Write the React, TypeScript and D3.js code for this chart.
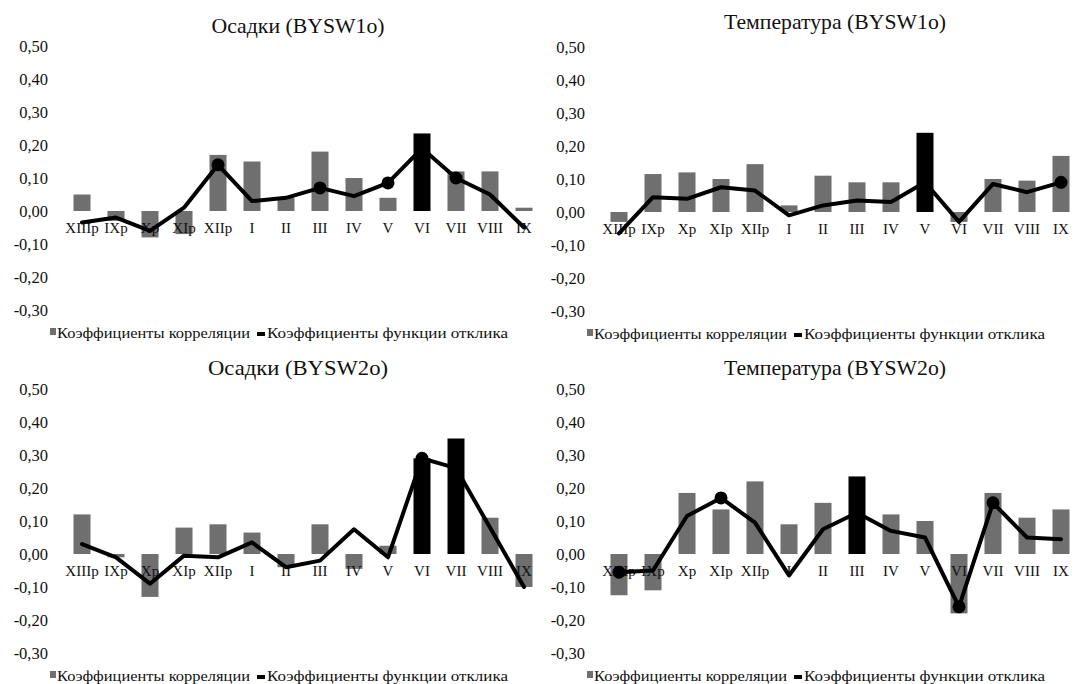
import React from "react";
import * as d3 from "d3";

const W = 1075;
const H = 684;

// Months of the previous (p) and current growth year
const months = ["XIIIp", "IXp", "Xp", "XIp", "XIIp", "I", "II", "III", "IV", "V", "VI", "VII", "VIII", "IX"];
const yTicks = [0.5, 0.4, 0.3, 0.2, 0.1, 0, -0.1, -0.2, -0.3];
const legendCorr = "Коэффициенты корреляции";
const legendResp = "Коэффициенты функции отклика";

// Осадки (BYSW1o)
const precip1Corr = [0.05, -0.03, -0.08, -0.07, 0.17, 0.15, 0.04, 0.18, 0.1, 0.04, 0.235, 0.12, 0.12, 0.01];
const precip1Resp = [-0.035, -0.02, -0.06, 0.01, 0.14, 0.03, 0.04, 0.07, 0.045, 0.085, 0.19, 0.1, 0.05, -0.05];
const precip1CorrSig = ["VI"];
const precip1RespSig = ["XIIp", "III", "V", "VII"];

// Температура (BYSW1o)
const temp1Corr = [-0.03, 0.115, 0.12, 0.1, 0.145, 0.02, 0.11, 0.09, 0.09, 0.24, -0.03, 0.1, 0.095, 0.17];
const temp1Resp = [-0.065, 0.045, 0.04, 0.075, 0.065, -0.01, 0.02, 0.035, 0.03, 0.09, -0.03, 0.085, 0.06, 0.09];
const temp1CorrSig = ["V"];
const temp1RespSig = ["V", "IX"];

// Осадки (BYSW2o)
const precip2Corr = [0.12, -0.01, -0.13, 0.08, 0.09, 0.065, -0.04, 0.09, -0.045, 0.025, 0.29, 0.35, 0.11, -0.1];
const precip2Resp = [0.03, -0.01, -0.09, -0.005, -0.01, 0.035, -0.04, -0.02, 0.075, -0.01, 0.29, 0.26, 0.08, -0.1];
const precip2CorrSig = ["VI", "VII"];
const precip2RespSig = ["VI"];

// Температура (BYSW2o)
const temp2Corr = [-0.125, -0.11, 0.185, 0.135, 0.22, 0.09, 0.155, 0.235, 0.12, 0.1, -0.18, 0.185, 0.11, 0.135];
const temp2Resp = [-0.055, -0.05, 0.115, 0.17, 0.095, -0.065, 0.075, 0.125, 0.07, 0.05, -0.16, 0.155, 0.05, 0.045];
const temp2CorrSig = ["III"];
const temp2RespSig = ["XIIIp", "XIp", "VI", "VII"];

const panels = [
  { title: "Осадки (BYSW1o)", corr: precip1Corr, resp: precip1Resp, corrSig: precip1CorrSig, respSig: precip1RespSig, dx: 0, dy: 0, titleY: 33, titleLen: 173 },
  { title: "Температура (BYSW1o)", corr: temp1Corr, resp: temp1Resp, corrSig: temp1CorrSig, respSig: temp1RespSig, dx: 537, dy: 1, titleY: 28, titleLen: 222 },
  { title: "Осадки (BYSW2o)", corr: precip2Corr, resp: precip2Resp, corrSig: precip2CorrSig, respSig: precip2RespSig, dx: 0, dy: 343, titleY: 32, titleLen: 180 },
  { title: "Температура (BYSW2o)", corr: temp2Corr, resp: temp2Resp, corrSig: temp2CorrSig, respSig: temp2RespSig, dx: 537, dy: 343, titleY: 32, titleLen: 222 },
];

const serif: React.CSSProperties = { fontFamily: "Liberation Serif, Times New Roman, DejaVu Serif, serif" };
const GRAY = "#6f6f6f";
const BLACK = "#000000";
const INK = "#111111";

const ruLocale = d3.formatLocale({ decimal: ",", thousands: " ", grouping: [3], currency: ["", ""], minus: "-" });
const fmt = ruLocale.format(".2f");

type PanelProps = {
  title: string;
  corr: number[];
  resp: number[];
  corrSig: string[];
  respSig: string[];
  dx: number;
  dy: number;
  titleY: number;
  titleLen: number;
};

function Panel({ title, corr, resp, corrSig, respSig, dx, dy, titleY, titleLen }: PanelProps) {
  const x = d3.scaleBand<string>().domain(months).range([65, 541]).paddingInner(0.5).paddingOuter(0.25);
  const y = d3.scaleLinear().domain([-0.3, 0.5]).range([310, 46]);
  const cx = (m: string) => (x(m) as number) + x.bandwidth() / 2;
  const line = d3
    .line<number>()
    .x((_, i) => cx(months[i]))
    .y((d) => y(d));

  return (
    <g transform={`translate(${dx},${dy})`}>
      <text
        x={298}
        y={titleY}
        textAnchor="middle"
        style={serif}
        fontSize={21}
        textLength={titleLen}
        lengthAdjust="spacingAndGlyphs"
        fill={INK}
      >
        {title}
      </text>

      {yTicks.map((t) => (
        <text key={t} x={48} y={y(t)} dy="0.35em" textAnchor="end" style={serif} fontSize={16.5} fill={INK}>
          {fmt(t)}
        </text>
      ))}

      {months.map((m, i) => {
        const v = corr[i];
        return (
          <rect
            key={m}
            x={x(m)}
            y={Math.min(y(v), y(0))}
            width={x.bandwidth()}
            height={Math.abs(y(v) - y(0))}
            fill={corrSig.includes(m) ? BLACK : GRAY}
          />
        );
      })}

      {months.map((m) => (
        <text key={m} x={cx(m)} y={y(0) + 22} textAnchor="middle" style={serif} fontSize={15} fill={INK}>
          {m}
        </text>
      ))}

      <path d={line(resp) ?? ""} fill="none" stroke={BLACK} strokeWidth={4} strokeLinejoin="round" strokeLinecap="round" />
      {months.map((m, i) =>
        respSig.includes(m) ? <circle key={m} cx={cx(m)} cy={y(resp[i])} r={6.5} fill={BLACK} /> : null
      )}

      {/* legend */}
      <rect x={50} y={328} width={6} height={7} fill={GRAY} />
      <text x={57} y={338} style={serif} fontSize={15} textLength={193} lengthAdjust="spacingAndGlyphs" fill={INK}>
        {legendCorr}
      </text>
      <rect x={257} y={332} width={8} height={4} fill={BLACK} />
      <text x={267} y={338} style={serif} fontSize={15} textLength={241} lengthAdjust="spacingAndGlyphs" fill={INK}>
        {legendResp}
      </text>
    </g>
  );
}

export default function App() {
  return (
    <svg
      width={W}
      height={H}
      viewBox={`0 0 ${W} ${H}`}
      style={{ position: "absolute", left: 0, top: 0, background: "#fff" }}
    >
      <rect width={W} height={H} fill="#fff" />
      {panels.map((p) => (
        <Panel key={p.title} {...p} />
      ))}
    </svg>
  );
}
